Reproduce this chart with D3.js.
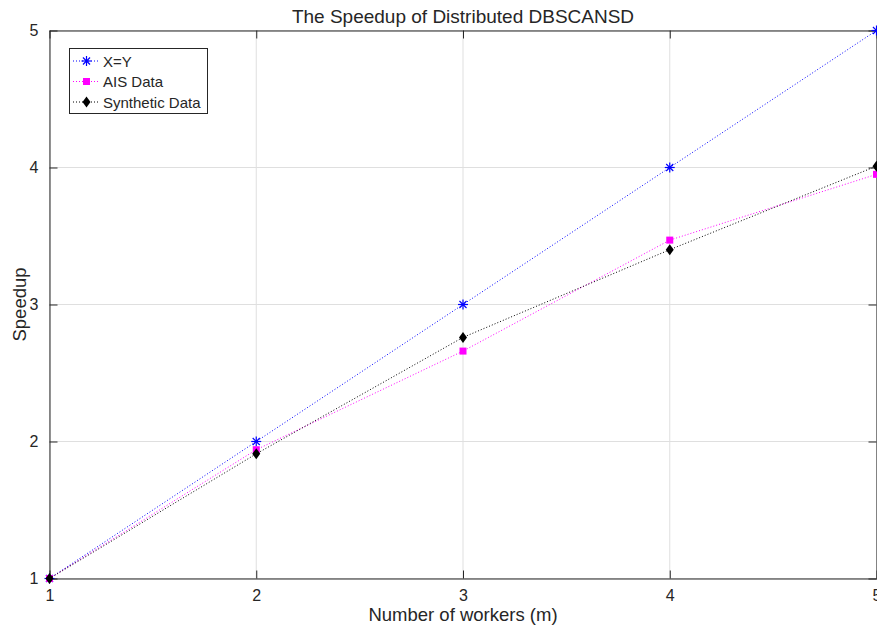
<!DOCTYPE html>
<html>
<head>
<meta charset="utf-8">
<script src="https://cdn.jsdelivr.net/npm/d3@7"></script>
<style>
body { margin:0; background:#fff; }
text { font-family: "Liberation Sans", Arial, sans-serif; fill:#262626; }
</style>
</head>
<body>
<div id="chart"></div>
<script>
var workers = [1, 2, 3, 4, 5];
var xyValues = [1, 2, 3, 4, 5];
var aisValues = [1, 1.94, 2.66, 3.47, 3.95];
var synthValues = [1, 1.91, 2.76, 3.40, 4.01];
var yTicks = [1, 2, 3, 4, 5];
var seriesNames = ["X=Y", "AIS Data", "Synthetic Data"];

var width = 877, height = 631;
var padL = 49.5, padR = 876.5, padT = 30.5, padB = 578.5;

var svg = d3.select("#chart").append("svg").attr("width", width).attr("height", height);

var x = d3.scaleLinear().domain([1, 5]).range([padL, padR]);
var y = d3.scaleLinear().domain([1, 5]).range([padB, padT]);

// grid
svg.append("g").selectAll("line").data(workers).enter().append("line")
	.attr("x1", function(d){ return x(d); }).attr("x2", function(d){ return x(d); })
	.attr("y1", padT).attr("y2", padB)
	.attr("stroke", "#dfdfdf").attr("stroke-width", 1);
svg.append("g").selectAll("line").data(yTicks).enter().append("line")
	.attr("y1", function(d){ return y(d); }).attr("y2", function(d){ return y(d); })
	.attr("x1", padL).attr("x2", padR)
	.attr("stroke", "#dfdfdf").attr("stroke-width", 1);

// axes (ticks inward)
var fmt = d3.format("d");
function styleAxis(g)
{
	g.selectAll("text").style("font-size", "16px").style("fill", "#262626");
	g.selectAll("line,path").attr("stroke", "#262626");
}
svg.append("g").attr("transform", "translate(0," + padB + ")")
	.call(d3.axisBottom(x).tickValues(workers).tickFormat(fmt).tickSizeInner(-8).tickSizeOuter(0).tickPadding(11))
	.call(styleAxis);
svg.append("g").attr("transform", "translate(0," + padT + ")")
	.call(d3.axisTop(x).tickValues(workers).tickFormat("").tickSizeInner(-8).tickSizeOuter(0))
	.call(styleAxis);
svg.append("g").attr("transform", "translate(" + padL + ",0)")
	.call(d3.axisLeft(y).tickValues(yTicks).tickFormat(fmt).tickSizeInner(-8).tickSizeOuter(0).tickPadding(11))
	.call(styleAxis);
svg.append("g").attr("transform", "translate(" + padR + ",0)")
	.call(d3.axisRight(y).tickValues(yTicks).tickFormat("").tickSizeInner(-8).tickSizeOuter(0))
	.call(styleAxis);

// series
var series = [
	{name: seriesNames[0], values: xyValues, color: "#0000ff", marker: "star"},
	{name: seriesNames[1], values: aisValues, color: "#ff00ff", marker: "square"},
	{name: seriesNames[2], values: synthValues, color: "#000000", marker: "diamond"}
];

var line = d3.line().x(function(d, i){ return x(workers[i]); }).y(function(d){ return y(d); });

function drawMarker(g, type, color, cx, cy)
{
	if(type == "star")
	{
		var r = 5;
		for(var a=0;a<4;a++)
		{
			var ang = a * Math.PI / 4;
			g.append("line").attr("x1", cx - r*Math.cos(ang)).attr("y1", cy - r*Math.sin(ang))
				.attr("x2", cx + r*Math.cos(ang)).attr("y2", cy + r*Math.sin(ang))
				.attr("stroke", color).attr("stroke-width", 1.2);
		}
	}
	else if(type == "square")
	{
		g.append("rect").attr("x", cx-3.5).attr("y", cy-3.5).attr("width", 7).attr("height", 7).attr("fill", color);
	}
	else
	{
		g.append("path").attr("d", "M"+cx+" "+(cy-5.5)+" L"+(cx+4)+" "+cy+" L"+cx+" "+(cy+5.5)+" L"+(cx-4)+" "+cy+" Z")
			.attr("fill", color);
	}
}

series.forEach(function(s)
{
	svg.append("path").attr("d", line(s.values)).attr("fill", "none")
		.attr("stroke", s.color).attr("stroke-width", 1).attr("stroke-dasharray", "1,2");
	var g = svg.append("g");
	s.values.forEach(function(v, i){ drawMarker(g, s.marker, s.color, x(workers[i]), y(v)); });
});

// title and labels
svg.append("text").attr("x", (padL+padR)/2).attr("y", 23).attr("text-anchor", "middle")
	.style("font-size", "19px").text("The Speedup of Distributed DBSCANSD");
svg.append("text").attr("x", (padL+padR)/2).attr("y", 621).attr("text-anchor", "middle")
	.style("font-size", "18.5px").text("Number of workers (m)");
svg.append("text").attr("transform", "translate(26," + ((padT+padB)/2) + ") rotate(-90)").attr("text-anchor", "middle")
	.style("font-size", "18.5px").text("Speedup");

// legend
var lg = svg.append("g");
lg.append("rect").attr("x", 69.5).attr("y", 48.5).attr("width", 138).attr("height", 65)
	.attr("fill", "#fff").attr("stroke", "#262626").attr("stroke-width", 1);
series.forEach(function(s, i)
{
	var ly = 61 + i * 20.5;
	lg.append("line").attr("x1", 73).attr("x2", 100).attr("y1", ly).attr("y2", ly)
		.attr("stroke", s.color).attr("stroke-width", 1).attr("stroke-dasharray", "1,2");
	drawMarker(lg, s.marker, s.color, 86.5, ly);
	lg.append("text").attr("x", 103).attr("y", ly + 5.5).style("font-size", "15px").text(s.name);
});
</script>
</body>
</html>
